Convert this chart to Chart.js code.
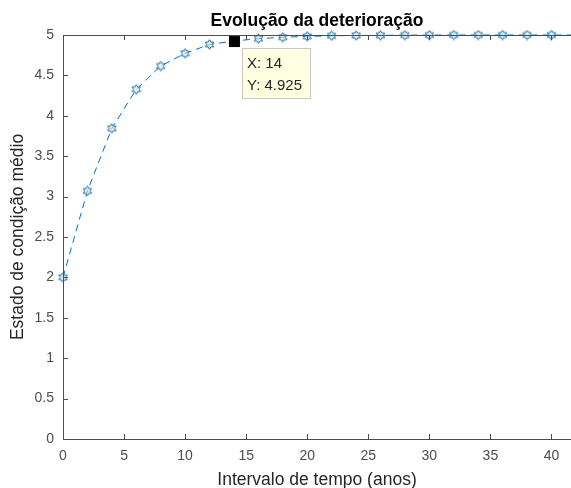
<!DOCTYPE html>
<html>
<head>
<meta charset="utf-8">
<script src="https://cdn.jsdelivr.net/npm/chart.js@4.4.0/dist/chart.umd.min.js"></script>
<style>
  body { margin: 0; background: #fff; overflow: hidden; }
  canvas { display: block; }
</style>
</head>
<body>
<canvas id="myChart" width="571" height="488"></canvas>
<script>
// anos
const years = [0, 2, 4, 6, 8, 10, 12, 14, 16, 18, 20, 22, 24, 26, 28, 30, 32, 34, 36, 38, 40, 42];
// estado de condição médio
const condition = [2, 3.07, 3.845, 4.328, 4.616, 4.773, 4.883, 4.925, 4.955, 4.972, 4.983,
  4.99, 4.994, 4.996, 4.998, 4.999, 5, 5, 5, 5, 5, 5];
const xTicks = [0, 5, 10, 15, 20, 25, 30, 35, 40];
const yTicks = [0, 0.5, 1, 1.5, 2, 2.5, 3, 3.5, 4, 4.5, 5];
const tipX = 14;
const tipY = 4.925;

const axisColor = "#4d4d4d";
const lineColor = "#0072BD";

function hexagram() {
  const c = document.createElement("canvas");
  c.width = 11;
  c.height = 11;
  const g = c.getContext("2d");
  g.beginPath();
  for (let i = 0; i < 12; i++) {
    const r = i % 2 == 0 ? 4.8 : 2.8;
    const a = (Math.PI / 6) * i - Math.PI / 2;
    const px = 5.5 + r * Math.cos(a);
    const py = 5.5 + r * Math.sin(a);
    if (i == 0) g.moveTo(px, py);
    else g.lineTo(px, py);
  }
  g.closePath();
  g.fillStyle = "rgba(200, 230, 245, 0.6)";
  g.fill();
  g.strokeStyle = "#2a6f9e";
  g.lineWidth = 1;
  g.stroke();
  return c;
}

// caixa e ticks ao estilo matlab
const matlabAxes = {
  id: "matlabAxes",
  afterDatasetsDraw(chart) {
    const ctx = chart.ctx;
    const a = chart.chartArea;
    const xs = chart.scales.x;
    const ys = chart.scales.y;
    ctx.save();
    ctx.strokeStyle = axisColor;
    ctx.lineWidth = 1;
    ctx.beginPath();
    ctx.moveTo(a.left + 0.5, a.bottom + 0.5);
    ctx.lineTo(a.left + 0.5, a.top + 0.5);
    ctx.lineTo(a.right, a.top + 0.5);
    ctx.moveTo(a.left + 0.5, a.bottom + 0.5);
    ctx.lineTo(a.right, a.bottom + 0.5);
    xs.ticks.forEach(function (t) {
      const px = Math.round(xs.getPixelForValue(t.value)) + 0.5;
      ctx.moveTo(px, a.bottom);
      ctx.lineTo(px, a.bottom - 5);
      ctx.moveTo(px, a.top);
      ctx.lineTo(px, a.top + 5);
    });
    ys.ticks.forEach(function (t) {
      const py = Math.round(ys.getPixelForValue(t.value)) + 0.5;
      ctx.moveTo(a.left, py);
      ctx.lineTo(a.left + 5, py);
    });
    ctx.stroke();

    // data tip
    const px = xs.getPixelForValue(tipX);
    const py = ys.getPixelForValue(tipY);
    ctx.fillStyle = "#000";
    ctx.fillRect(px - 5, py - 5, 11, 11);
    const bx = Math.round(px) + 8;
    const by = Math.round(py) + 7;
    ctx.fillStyle = "#ffffe1";
    ctx.fillRect(bx, by, 68, 50);
    ctx.strokeStyle = "#c8c8c8";
    ctx.strokeRect(bx + 0.5, by + 0.5, 68, 50);
    ctx.fillStyle = "#262626";
    ctx.font = "15px 'Liberation Sans', Arial, sans-serif";
    ctx.textBaseline = "middle";
    ctx.fillText("X: " + tipX, bx + 5, by + 16);
    ctx.fillText("Y: " + tipY, bx + 5, by + 38);
    ctx.restore();
  },
};

const ctx = document.getElementById("myChart").getContext("2d");
const myChart = new Chart(ctx, {
  type: "line",
  data: {
    datasets: [
      {
        data: years.map(function (x, i) {
          return { x: x, y: condition[i] };
        }),
        borderColor: lineColor,
        borderWidth: 1,
        borderDash: [7, 5],
        pointStyle: hexagram(),
        pointRadius: 5,
        tension: 0,
        clip: false,
      },
    ],
  },
  plugins: [matlabAxes],
  options: {
    responsive: false,
    animation: false,
    layout: { padding: 0, autoPadding: false },
    plugins: {
      legend: { display: false },
      tooltip: { enabled: false },
      title: {
        display: true,
        fullSize: false,
        text: "Evolução da deterioração",
        color: "#000",
        font: { family: "'Liberation Sans', Arial", size: 17.5, weight: "bold" },
        padding: { top: 11, bottom: 3 },
      },
    },
    scales: {
      x: {
        type: "linear",
        min: 0,
        max: 41.6,
        afterBuildTicks: function (scale) {
          scale.ticks = xTicks.map(function (v) {
            return { value: v };
          });
        },
        afterFit: function (scale) {
          scale.height = 49;
          scale.paddingLeft = 0;
          scale.paddingRight = 0;
        },
        grid: { display: false, drawTicks: false },
        border: { display: false },
        ticks: {
          color: axisColor,
          padding: 9,
          maxRotation: 0,
          font: { family: "'Liberation Sans', Arial", size: 14 },
          callback: function (v) {
            return String(v);
          },
        },
        title: {
          display: true,
          text: "Intervalo de tempo (anos)",
          color: "#262626",
          font: { family: "'Liberation Sans', Arial", size: 17.5 },
          padding: { top: 0, bottom: -3 },
        },
      },
      y: {
        min: 0,
        max: 5,
        afterBuildTicks: function (scale) {
          scale.ticks = yTicks.map(function (v) {
            return { value: v };
          });
        },
        afterFit: function (scale) {
          scale.width = 63;
        },
        grid: { display: false, drawTicks: false },
        border: { display: false },
        ticks: {
          color: axisColor,
          padding: 9,
          font: { family: "'Liberation Sans', Arial", size: 14 },
          callback: function (v) {
            return String(v);
          },
        },
        title: {
          display: true,
          text: "Estado de condição médio",
          color: "#262626",
          font: { family: "'Liberation Sans', Arial", size: 17.5 },
          padding: { top: 8, bottom: 0 },
        },
      },
    },
  },
});
</script>
</body>
</html>
